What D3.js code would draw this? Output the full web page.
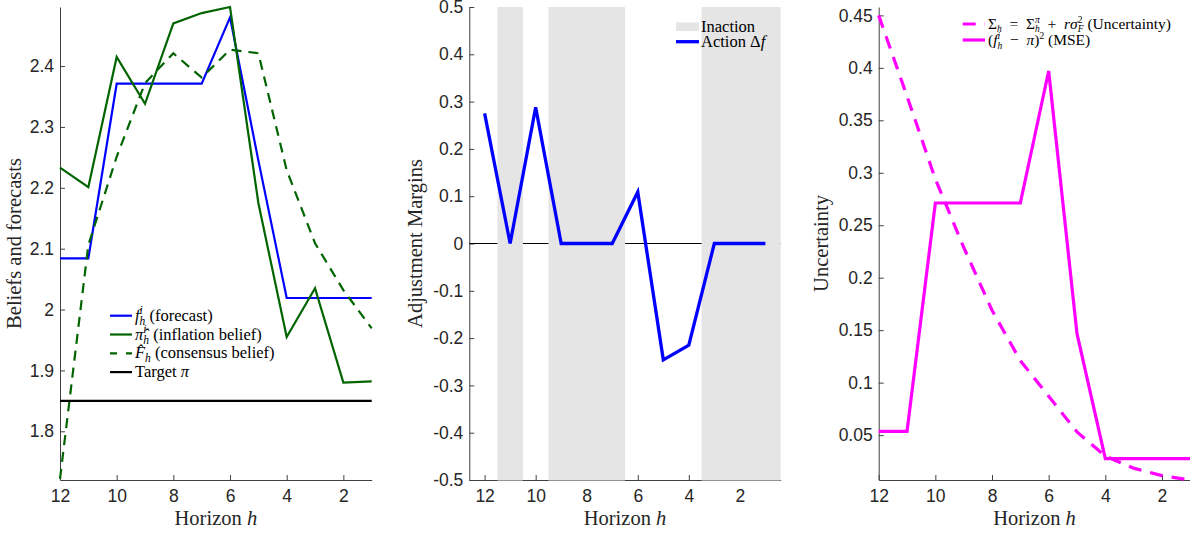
<!DOCTYPE html>
<html>
<head>
<meta charset="utf-8">
<script src="https://cdn.jsdelivr.net/npm/d3@7"></script>
<style>
  body { margin: 0; background: #fff; }
  .tick text { font-family: "Liberation Sans", Arial, sans-serif; font-size: 17.5px; fill: #262626; }
  .axis path, .axis line { stroke: #404040; stroke-width: 1; }
  .lab { font-family: "Liberation Serif", serif; font-size: 20.5px; fill: #262626; }
  .leg { font-family: "Liberation Serif", serif; fill: #000; }
</style>
</head>
<body>
<svg id="fig" width="1190" height="537"></svg>
<script>
// horizons run from 12 down to 1
var horizons = [12, 11, 10, 9, 8, 7, 6, 5, 4, 3, 2, 1];

// left panel: beliefs and forecasts
var forecast   = [2.084, 2.084, 2.371, 2.371, 2.371, 2.371, 2.480, 2.245, 2.019, 2.019, 2.019, 2.019];
var inflBelief = [2.233, 2.201, 2.415, 2.338, 2.470, 2.487, 2.497, 2.175, 1.955, 2.035, 1.880, 1.882];
var consensus  = [1.722, 2.106, 2.251, 2.372, 2.421, 2.381, 2.427, 2.421, 2.229, 2.109, 2.032, 1.969];
var target = 1.85;
var beliefRange = [1.72, 2.497];
var beliefTicks = [1.8, 1.9, 2.0, 2.1, 2.2, 2.3, 2.4];

// middle panel: adjustment margins
var actionDf = [0.275, 0, 0.288, 0, 0, 0, 0.109, -0.246, -0.215, 0, 0, 0];
var inactionBands = [[11.5, 10.5], [9.5, 6.5], [3.5, 0.4]];
var marginHorizon = [12.6, 0.4];
var marginRange = [-0.5, 0.5];
var marginTicks = [-0.5, -0.4, -0.3, -0.2, -0.1, 0, 0.1, 0.2, 0.3, 0.4, 0.5];

// right panel: uncertainty
var sigmaH = [0.45, 0.373, 0.294, 0.229, 0.169, 0.121, 0.087, 0.053, 0.030, 0.0185, 0.0114, 0.0072];
var mse    = [0.0535, 0.0535, 0.2712, 0.2712, 0.2712, 0.2712, 0.397, 0.1467, 0.0276, 0.0276, 0.0276, 0.0276];
var uncRange = [0.0072, 0.458];
var uncTicks = [0.05, 0.1, 0.15, 0.2, 0.25, 0.3, 0.35, 0.4, 0.45];

var xTicks = [12, 10, 8, 6, 4, 2];

var svg = d3.select("#fig");
svg.append("rect").attr("width", 1190).attr("height", 537).attr("fill", "#fff");

var plotTop = 7, plotBottom = 480;

var x1 = d3.scaleLinear().domain([12, 1]).range([60, 371.7]);
var y1 = d3.scaleLinear().domain(beliefRange).range([plotBottom, plotTop]);
var x2 = d3.scaleLinear().domain(marginHorizon).range([469.3, 780.7]);
var y2 = d3.scaleLinear().domain(marginRange).range([plotBottom, plotTop]);
var x3 = d3.scaleLinear().domain([12, 1]).range([878.7, 1190.3]);
var y3 = d3.scaleLinear().domain(uncRange).range([plotBottom, plotTop]);

function fmt(d) { return String(+d.toFixed(2)); }

function drawAxes(x, y, yt) {
  svg.append("g").attr("class", "axis")
    .attr("transform", "translate(0," + plotBottom + ")")
    .call(d3.axisBottom(x).tickValues(xTicks).tickSize(-5).tickSizeOuter(0).tickPadding(10).tickFormat(fmt));
  svg.append("g").attr("class", "axis")
    .attr("transform", "translate(" + x.range()[0] + ",0)")
    .call(d3.axisLeft(y).tickValues(yt).tickSize(-5).tickSizeOuter(0).tickPadding(6).tickFormat(fmt));
  svg.selectAll(".axis .domain").attr("fill", "none");
}

function labels(x, ylabX, ytext) {
  var cx = (x.range()[0] + x.range()[1]) / 2;
  var t = svg.append("text").attr("class", "lab").attr("x", cx).attr("y", 525)
    .attr("text-anchor", "middle");
  t.append("tspan").text("Horizon ");
  t.append("tspan").text("h").style("font-style", "italic");
  svg.append("text").attr("class", "lab")
    .attr("transform", "translate(" + ylabX + "," + ((plotTop + plotBottom) / 2) + ") rotate(-90)")
    .attr("text-anchor", "middle")
    .text(ytext);
}

// text with small sub/superscripts, "under" stacks a subscript below the previous superscript
function mathText(x, y, parts, size, small) {
  size = size || 16.5;
  small = small || 11.5;
  var t = svg.append("text").attr("class", "leg").attr("x", x).attr("y", y)
    .style("font-size", size + "px");
  var cur = 0, lastW = 0;
  parts.forEach(function(p) {
    var off = p.sup ? -0.38 * size : (p.sub ? 0.25 * size : 0);
    var s = t.append("tspan").text(p.s).attr("dy", off - cur);
    cur = off;
    if (p.sup || p.sub) s.style("font-size", small + "px");
    if (p.it) s.style("font-style", "italic");
    if (p.under) s.attr("dx", -lastW);
    lastW = s.node().getComputedTextLength();
  });
}

function lineOf(x, y) {
  return d3.line().x(function(d, i) { return x(horizons[i]); }).y(function(d) { return y(d); });
}

// ---------- panel 1
drawAxes(x1, y1, beliefTicks);
labels(x1, 21, "Beliefs and forecasts");

var green = "#006400";
var l1 = lineOf(x1, y1);
svg.append("path").datum(forecast).attr("d", l1)
  .attr("fill", "none").attr("stroke", "#0000ff").attr("stroke-width", 2.2);
svg.append("path").datum(inflBelief).attr("d", l1)
  .attr("fill", "none").attr("stroke", green).attr("stroke-width", 2.2);
svg.append("path").datum(consensus).attr("d", l1)
  .attr("fill", "none").attr("stroke", green).attr("stroke-width", 2.2).attr("stroke-dasharray", "10,7");
svg.append("line")
  .attr("x1", x1(12)).attr("x2", x1(1)).attr("y1", y1(target)).attr("y2", y1(target))
  .attr("stroke", "#000").attr("stroke-width", 2.2);

var leg1 = [
  { c: "#0000ff", dash: null, parts: [{ s: "f", it: 1 }, { s: "i", sup: 1, it: 1 }, { s: "h", sub: 1, under: 1, it: 1 }, { s: " (forecast)" }] },
  { c: green, dash: null, parts: [{ s: "\u03c0\u0302", it: 1 }, { s: "i", sup: 1, it: 1 }, { s: "h", sub: 1, under: 1, it: 1 }, { s: " (inflation belief)" }] },
  { c: green, dash: "7,9", parts: [{ s: "F\u0302", it: 1 }, { s: "h", sub: 1, it: 1 }, { s: " (consensus belief)" }] },
  { c: "#000", dash: null, parts: [{ s: "Target " }, { s: "\u03c0", it: 1 }] }
];
leg1.forEach(function(d, i) {
  var yy = 315.7 + i * 18.8;
  svg.append("line").attr("x1", 110).attr("x2", 132).attr("y1", yy).attr("y2", yy)
    .attr("stroke", d.c).attr("stroke-width", 2.2).attr("stroke-dasharray", d.dash);
  mathText(135, yy + 5, d.parts);
});

// ---------- panel 2
drawAxes(x2, y2, marginTicks);
labels(x2, 421.5, "Adjustment Margins");

svg.append("line")
  .attr("x1", x2.range()[0]).attr("x2", x2.range()[1]).attr("y1", y2(0)).attr("y2", y2(0))
  .attr("stroke", "#000").attr("stroke-width", 1);

svg.selectAll(".band").data(inactionBands).enter().append("rect")
  .attr("class", "band")
  .attr("x", function(d) { return x2(d[0]); })
  .attr("width", function(d) { return x2(d[1]) - x2(d[0]); })
  .attr("y", plotTop).attr("height", plotBottom - plotTop + 0.5)
  .attr("fill", "#e5e5e5");

svg.append("path").datum(actionDf).attr("d", lineOf(x2, y2))
  .attr("fill", "none").attr("stroke", "#0000ff").attr("stroke-width", 3.3);

svg.append("rect").attr("x", 676).attr("y", 22.3).attr("width", 23).attr("height", 8.7).attr("fill", "#e5e5e5");
mathText(701, 31.5, [{ s: "Inaction" }]);
svg.append("line").attr("x1", 676).attr("x2", 699).attr("y1", 41.7).attr("y2", 41.7)
  .attr("stroke", "#0000ff").attr("stroke-width", 3.3);
mathText(701, 46.5, [{ s: "Action \u0394" }, { s: "f", it: 1 }]);

// ---------- panel 3
drawAxes(x3, y3, uncTicks);
labels(x3, 828, "Uncertainty");

var l3 = lineOf(x3, y3);
svg.append("path").datum(sigmaH).attr("d", l3)
  .attr("fill", "none").attr("stroke", "#ff00ff").attr("stroke-width", 3.2).attr("stroke-dasharray", "13,9");
svg.append("path").datum(mse).attr("d", l3)
  .attr("fill", "none").attr("stroke", "#ff00ff").attr("stroke-width", 3.2);

svg.append("line").attr("x1", 962.7).attr("x2", 985).attr("y1", 24).attr("y2", 24)
  .attr("stroke", "#ff00ff").attr("stroke-width", 3.2).attr("stroke-dasharray", "13,9");
mathText(988, 28.5, [
  { s: "\u03a3" }, { s: "h", sub: 1, it: 1 }, { s: "\u2002=\u2002\u03a3" }, { s: "\u03c0", sup: 1, it: 1 }, { s: "h", sub: 1, under: 1, it: 1 },
  { s: "\u2002+\u2002" }, { s: "r\u03c3", it: 1 }, { s: "2", sup: 1 }, { s: "F", sub: 1, under: 1, it: 1 }, { s: " (Uncertainty)" }
], 15.5, 9.5);
svg.append("line").attr("x1", 962.7).attr("x2", 985).attr("y1", 40).attr("y2", 40)
  .attr("stroke", "#ff00ff").attr("stroke-width", 3.2);
mathText(988, 45, [
  { s: "(" }, { s: "f", it: 1 }, { s: "i", sup: 1, it: 1 }, { s: "h", sub: 1, under: 1, it: 1 },
  { s: "\u2002\u2212\u2002" }, { s: "\u03c0", it: 1 }, { s: ")" }, { s: "2", sup: 1 }, { s: " (MSE)" }
], 15.5, 9.5);
</script>
</body>
</html>
